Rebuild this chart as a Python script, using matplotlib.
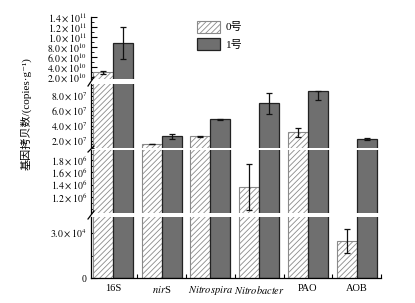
import matplotlib
matplotlib.use('Agg')
import matplotlib.pyplot as plt
import numpy as np
from matplotlib.ticker import FuncFormatter, FixedLocator, MultipleLocator
from matplotlib.patches import Patch

plt.rcParams['font.family'] = ['Liberation Serif', 'Noto Sans CJK SC', 'DejaVu Serif']
plt.rcParams['mathtext.fontset'] = 'stix'
plt.rcParams['hatch.color'] = '#a0a0a0'
plt.rcParams['hatch.linewidth'] = 0.6

categories = ['16S', r'$\mathit{nir}$S', r'$\mathit{Nitrospira}$', r'$\mathit{Nitrobacter}$', 'PAO', 'AOB']
series_names = ['0号', '1号']
vals_0 = [2.9e10, 1.55e7, 2.6e7, 1.36e6, 3.13e7, 2.47e4]
err_0 = [0.3e10, 0.05e7, 0.07e7, 0.37e6, 0.6e7, 0.78e4]
vals_1 = [8.7e10, 2.55e7, 4.86e7, 7.0e7, 8.7e7, 2.23e7]
err_1_low = [3.2e10, 0.3e7, 0.07e7, 1.45e7, 1.25e7, 0.12e7]
err_1_high = [3.2e10, 0.3e7, 0.07e7, 1.45e7, 0.0, 0.12e7]

# broken axis segments, top to bottom
seg_limits = [(1.6e10, 1.4e11), (1.0e7, 9.6e7), (0.94e6, 1.96e6), (0, 4.07e4)]
seg_ticks = [[2e10, 4e10, 6e10, 8e10, 1.0e11, 1.2e11, 1.4e11],
             [2e7, 4e7, 6e7, 8e7],
             [1.2e6, 1.4e6, 1.6e6, 1.8e6],
             [0, 3e4]]
seg_minor = [1e10, 0.5e7, 0.1e6, 1.5e4]
# pixel rows (top, bottom) of each segment in the 303 px tall figure
seg_rows = [(17, 79), (84, 148), (150, 213), (217, 278)]

W, H = 415, 303
fig = plt.figure(figsize=(W / 100, H / 100), dpi=100)

x = np.arange(len(categories))
bw = 0.41


def sci(v, pos):
    if v == 0:
        return '0'
    exp = int(np.floor(np.log10(abs(v)) + 1e-9))
    mant = v / 10 ** exp
    return r'$%.1f\times10^{%d}$' % (mant, exp)


axes = []
for i, (lim, rows) in enumerate(zip(seg_limits, seg_rows)):
    top, bot = rows
    ax = fig.add_axes([91 / W, 1 - bot / H, 290 / W, (bot - top) / H])
    ax.bar(x - bw / 2, vals_0, bw, color='white', edgecolor='#8a8a8a',
           hatch='//////', linewidth=0.8, zorder=2)
    ax.bar(x + bw / 2, vals_1, bw, color='#6f6f6f', edgecolor='#222222',
           linewidth=0.9, zorder=2)
    ax.errorbar(x - bw / 2, vals_0, yerr=err_0, fmt='none', ecolor='#111111',
                elinewidth=0.9, capsize=2.5, capthick=0.9, zorder=3)
    ax.errorbar(x + bw / 2, vals_1, yerr=[err_1_low, err_1_high], fmt='none',
                ecolor='#111111', elinewidth=0.9, capsize=2.5, capthick=0.9, zorder=3)
    ax.set_ylim(*lim)
    ax.set_xlim(-0.45, 5.5)
    ax.yaxis.set_major_locator(FixedLocator(seg_ticks[i]))
    ax.yaxis.set_minor_locator(MultipleLocator(seg_minor[i]))
    ax.yaxis.set_major_formatter(FuncFormatter(sci))
    ax.tick_params(axis='y', which='major', direction='in', length=4, width=0.8,
                   labelsize=7, pad=3)
    ax.tick_params(axis='y', which='minor', direction='in', length=2, width=0.6)
    for s in ['top', 'right']:
        ax.spines[s].set_visible(False)
    ax.spines['left'].set_linewidth(0.9)
    if i < 3:
        ax.spines['bottom'].set_visible(False)
        ax.set_xticks([])
        ax.set_xticks([], minor=True)
    else:
        ax.spines['bottom'].set_linewidth(0.9)
        ax.set_xticks(x)
        ax.set_xticklabels(categories, fontsize=7.5)
        ax.set_xticks(np.append(x[:-1] + 0.5, 5.5), minor=True)
        ax.tick_params(axis='x', which='major', length=0, pad=4)
        ax.tick_params(axis='x', which='minor', direction='in', length=3, width=0.8)
    axes.append(ax)

# break marks on the left spine
for i in range(3):
    y_low = 1 - seg_rows[i][1] / H
    y_high = 1 - seg_rows[i + 1][0] / H
    fig.add_artist(plt.Line2D([88 / W, 94 / W], [y_high - 2 / H, y_low + 2 / H],
                              color='black', lw=0.9))

handles = [Patch(facecolor='white', edgecolor='#8a8a8a', hatch='//////', linewidth=0.8),
           Patch(facecolor='#6f6f6f', edgecolor='#222222', linewidth=0.9)]
fig.legend(handles, series_names, loc='upper left', bbox_to_anchor=(0.45, 0.965),
           frameon=False, fontsize=8, handlelength=2.1, handleheight=1.3,
           labelspacing=0.45, handletextpad=0.5)

fig.text(26 / W, 1 - 114 / H, '基因拷贝数/(copies·g⁻¹)', rotation=90,
         ha='center', va='center', fontsize=8)

fig.savefig('out.png', dpi=100)
